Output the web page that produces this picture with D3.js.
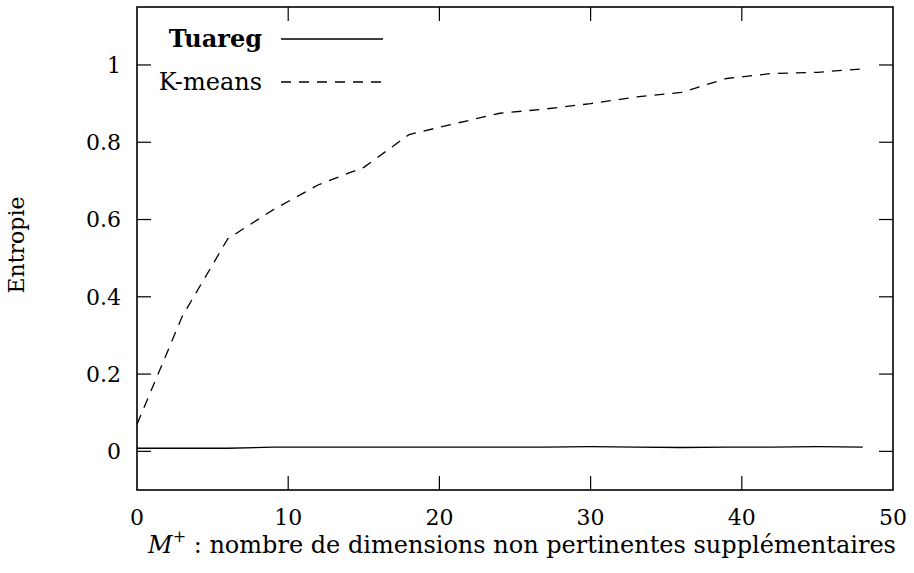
<!DOCTYPE html>
<html>
<head>
<meta charset="utf-8">
<script src="https://cdn.jsdelivr.net/npm/d3@7"></script>
<style>
  body { margin: 0; background: #fff; }
</style>
</head>
<body>
<div id="chart"></div>
<script>
const dims = [0, 3, 6, 9, 12, 15, 18, 21, 24, 27, 30, 33, 36, 39, 42, 45, 48];
const tuareg = [0.008, 0.008, 0.008, 0.011, 0.011, 0.011, 0.011, 0.011, 0.011, 0.011, 0.012, 0.011, 0.010, 0.011, 0.011, 0.012, 0.011];
const kmeans = [0.07, 0.35, 0.55, 0.625, 0.69, 0.735, 0.82, 0.848, 0.875, 0.886, 0.90, 0.917, 0.929, 0.965, 0.978, 0.981, 0.99];
const xTicks = [0, 10, 20, 30, 40, 50];
const yTicks = [0, 0.2, 0.4, 0.6, 0.8, 1];

const margin = {top: 7, right: 21, bottom: 83, left: 137},
    width = 914 - margin.left - margin.right,
    height = 573 - margin.top - margin.bottom;

const svg = d3.select("#chart")
  .append("svg")
    .attr("width", 914)
    .attr("height", 573)
    .attr("font-family", "'DejaVu Serif', 'Liberation Serif', serif")
  .append("g")
    .attr("transform", `translate(${margin.left}, ${margin.top})`);

const x = d3.scaleLinear().domain([0, 50]).range([0, width]);
const y = d3.scaleLinear().domain([-0.1, 1.15]).range([height, 0]);

const tickLen = 14;

// frame
svg.append("rect")
  .attr("width", width)
  .attr("height", height)
  .attr("fill", "none")
  .attr("stroke", "#000")
  .attr("stroke-width", 1.6);

// y ticks, left and right
svg.selectAll(".ytl")
  .data(yTicks)
  .enter()
  .append("line")
    .attr("x1", 0).attr("x2", tickLen)
    .attr("y1", d => y(d)).attr("y2", d => y(d))
    .attr("stroke", "#000").attr("stroke-width", 1.2);
svg.selectAll(".ytr")
  .data(yTicks)
  .enter()
  .append("line")
    .attr("x1", width - tickLen).attr("x2", width)
    .attr("y1", d => y(d)).attr("y2", d => y(d))
    .attr("stroke", "#000").attr("stroke-width", 1.2);
svg.selectAll(".ylab")
  .data(yTicks)
  .enter()
  .append("text")
    .attr("x", -16)
    .attr("y", d => y(d))
    .attr("dy", "0.35em")
    .attr("text-anchor", "end")
    .attr("font-size", 22)
    .text(d => d);

// x ticks, bottom and top
svg.selectAll(".xtb")
  .data(xTicks.slice(1, -1))
  .enter()
  .append("line")
    .attr("x1", d => x(d)).attr("x2", d => x(d))
    .attr("y1", height).attr("y2", height - tickLen)
    .attr("stroke", "#000").attr("stroke-width", 1.2);
svg.selectAll(".xtt")
  .data(xTicks.slice(1, -1))
  .enter()
  .append("line")
    .attr("x1", d => x(d)).attr("x2", d => x(d))
    .attr("y1", 0).attr("y2", tickLen)
    .attr("stroke", "#000").attr("stroke-width", 1.2);
svg.selectAll(".xlab")
  .data(xTicks)
  .enter()
  .append("text")
    .attr("x", d => x(d))
    .attr("y", height + 35)
    .attr("text-anchor", "middle")
    .attr("font-size", 22)
    .text(d => d);

// axis titles
svg.append("text")
  .attr("x", width / 2 + 7)
  .attr("y", height + 63)
  .attr("text-anchor", "middle")
  .attr("font-size", 24)
  .html('<tspan font-style="italic">M</tspan><tspan font-size="16" dy="-11">+</tspan><tspan dy="11"> : nombre de dimensions non pertinentes supplémentaires</tspan>');

svg.append("text")
  .attr("transform", `translate(${-113}, ${238}) rotate(-90)`)
  .attr("text-anchor", "middle")
  .attr("font-size", 22)
  .text("Entropie");

// series
const line = d3.line()
  .x((d, i) => x(dims[i]))
  .y(d => y(d));

svg.append("path")
  .datum(tuareg)
  .attr("fill", "none")
  .attr("stroke", "#000")
  .attr("stroke-width", 1.3)
  .attr("d", line);

svg.append("path")
  .datum(kmeans)
  .attr("fill", "none")
  .attr("stroke", "#000")
  .attr("stroke-width", 1.3)
  .attr("stroke-dasharray", "10,8")
  .attr("d", line);

// legend
const legend = svg.append("g");
legend.append("text")
  .attr("x", 125).attr("y", 32)
  .attr("dy", "0.35em")
  .attr("text-anchor", "end")
  .attr("font-size", 24)
  .attr("font-weight", "bold")
  .text("Tuareg");
legend.append("line")
  .attr("x1", 144).attr("x2", 246)
  .attr("y1", 32).attr("y2", 32)
  .attr("stroke", "#000").attr("stroke-width", 1.3);
legend.append("text")
  .attr("x", 125).attr("y", 75)
  .attr("dy", "0.35em")
  .attr("text-anchor", "end")
  .attr("font-size", 24)
  .text("K-means");
legend.append("line")
  .attr("x1", 144).attr("x2", 248)
  .attr("y1", 75).attr("y2", 75)
  .attr("stroke", "#000").attr("stroke-width", 1.3)
  .attr("stroke-dasharray", "10,8");
</script>
</body>
</html>
